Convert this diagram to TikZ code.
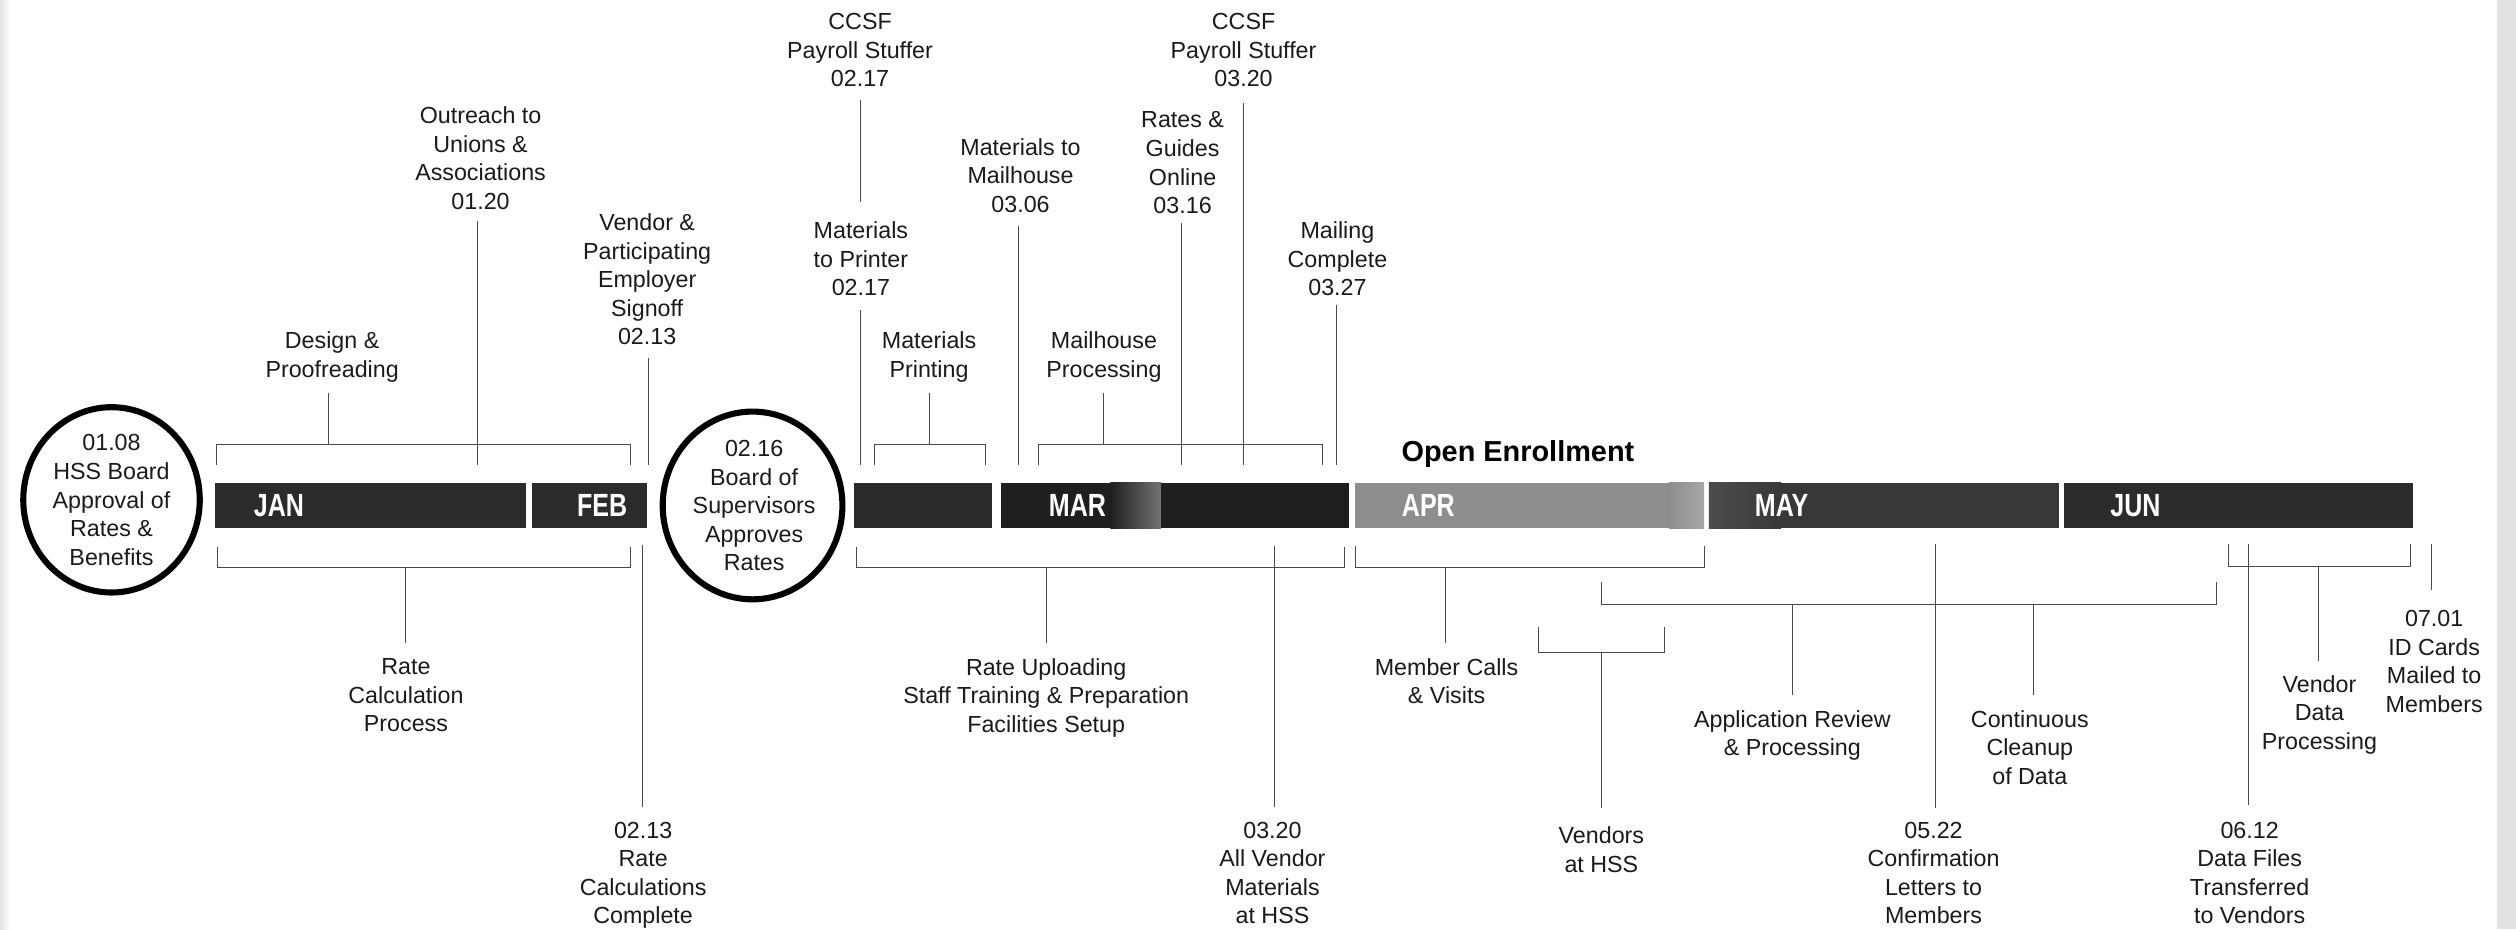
\documentclass[tikz,border=0pt]{standalone}
\usepackage{fontspec}
\setmainfont{Liberation Sans}
\newfontfamily\monthfont{Liberation Sans}[FakeStretch=0.78]
\usetikzlibrary{shapes.geometric}
\definecolor{bardark}{HTML}{2B2B2B}
\definecolor{bardeep}{HTML}{1F1F1F}
\definecolor{aprgray}{HTML}{8E8E8E}
\definecolor{linegray}{HTML}{4A4A4A}
\definecolor{txt}{HTML}{1A1A1A}
\definecolor{edgegray}{HTML}{E2E2E2}
\tikzset{
  lbl/.style={font=\fontsize{14.5}{17.8}\selectfont, align=center, inner sep=0pt, anchor=north, text=txt},
  tl/.style={line width=0.6pt, draw=linegray},
  mon/.style={font=\monthfont\bfseries\fontsize{20}{20}\selectfont, text=white, inner sep=0pt},
  ring/.style={draw=black, line width=3.8pt, ellipse, inner sep=0pt},
  title/.style={font=\bfseries\fontsize{18}{18}\selectfont, text=black, inner sep=0pt}
}
\begin{document}
\begin{tikzpicture}[x=1pt,y=-1pt]
\useasboundingbox (0,0) rectangle (1568,579);
% page edges
\shade[left color=edgegray, right color=white] (0,0) rectangle (6,579);
\fill[edgegray] (1556,0) rectangle (1568,579);

% ---------- bars ----------
\fill[bardark] (134,301) rectangle (328,329.3);
\fill[bardark] (331.5,301) rectangle (403.5,329.3);
\fill[bardeep!95!white] (532,301) rectangle (618.5,329.3);
\fill[bardeep] (624,301) rectangle (841,329.3);
\shade[left color=bardeep, right color=black!55] (692,301) rectangle (723.5,329.3);
\fill[aprgray] (844.5,301) rectangle (1062,329.3);
\shade[left color=aprgray, right color=black!35] (1040,301) rectangle (1062,329.3);
\fill[black!78] (1065,301) rectangle (1283,329.3);
\shade[left color=black!70, right color=black!78] (1065,301) rectangle (1110,329.3);
\fill[bardark] (1286,301) rectangle (1503.5,329.3);

% month labels
\node[mon, anchor=base west] (jan) at (158,322) {JAN};
\node[mon, anchor=base east] (feb) at (391,322) {FEB};
\node[mon, anchor=base west] (mar) at (653.5,322) {MAR};
\node[mon, anchor=base west] (apr) at (873.5,322) {APR};
\node[mon, anchor=base west] (may) at (1093.5,322) {MAY};
\node[mon, anchor=base west] (jun) at (1315,322) {JUN};
\node[title, anchor=base] (oe) at (946,287.5) {Open Enrollment};

% ---------- circles ----------
\node[ring, minimum width=110pt, minimum height=115.5pt] (c1) at (69.5,311.5) {};
\node[lbl, anchor=center] (c1t) at (69.5,311.6) {01.08\\HSS Board\\Approval of\\Rates \&\\Benefits};
\node[ring, minimum width=112pt, minimum height=117pt] (c2) at (469,315) {};
\node[lbl, anchor=center] (c2t) at (470,315.2) {02.16\\Board of\\Supervisors\\Approves\\Rates};

% ---------- labels above ----------
\node[lbl] (design) at (207,206.7) {Design \&\\Proofreading};
\node[lbl] (outreach) at (299.5,66.4) {Outreach to\\Unions \&\\Associations\\01.20};
\node[lbl] (vendor) at (403.3,132.9) {Vendor \&\\Participating\\Employer\\Signoff\\02.13};
\node[lbl] (ccsfa) at (536,8.2) {CCSF\\Payroll Stuffer\\02.17};
\node[lbl] (printer) at (536.5,138) {Materials\\to Printer\\02.17};
\node[lbl] (printing) at (579,206.7) {Materials\\Printing};
\node[lbl] (matmail) at (636,86.1) {Materials to\\Mailhouse\\03.06};
\node[lbl] (mailproc) at (688,206.7) {Mailhouse\\Processing};
\node[lbl] (rates) at (737,69.5) {Rates \&\\Guides\\Online\\03.16};
\node[lbl] (ccsfb) at (775,8.2) {CCSF\\Payroll Stuffer\\03.20};
\node[lbl] (mailing) at (833.5,138) {Mailing\\Complete\\03.27};

% ---------- labels below ----------
\node[lbl] (ratecalc) at (253,410.2) {Rate\\Calculation\\Process};
\node[lbl] (rcdone) at (400.8,512) {02.13\\Rate\\Calculations\\Complete};
\node[lbl] (rateup) at (652,410.2) {Rate Uploading\\Staff Training \& Preparation\\Facilities Setup};
\node[lbl] (allv) at (793,512) {03.20\\All Vendor\\Materials\\at HSS};
\node[lbl] (member) at (901.5,410.2) {Member Calls\\\& Visits};
\node[lbl] (vhss) at (998,515.1) {Vendors\\at HSS};
\node[lbl] (appr) at (1117,442.4) {Application Review\\\& Processing};
\node[lbl] (cleanup) at (1265,442.4) {Continuous\\Cleanup\\of Data};
\node[lbl] (conf) at (1205,512) {05.22\\Confirmation\\Letters to\\Members};
\node[lbl] (vdp) at (1445.5,420.6) {Vendor\\Data\\Processing};
\node[lbl] (dataf) at (1402,512) {06.12\\Data Files\\Transferred\\to Vendors};
\node[lbl] (idc) at (1517,380.1) {07.01\\ID Cards\\Mailed to\\Members};

% ---------- connector end points ----------
% top side
\coordinate (designA) at (205,245);   \coordinate (designB) at (205,277);
\coordinate (outA) at (297.7,138);    \coordinate (outB) at (297.7,290);
\coordinate (venA) at (404,223);      \coordinate (venB) at (404,290);
\coordinate (ccsfaA) at (536,62.3);   \coordinate (ccsfaB) at (536,125.7);
\coordinate (prinA) at (536,193);     \coordinate (prinB) at (536,290);
\coordinate (ptgA) at (579,245);      \coordinate (ptgB) at (579,277);
\coordinate (mmA) at (635,141);       \coordinate (mmB) at (635,290);
\coordinate (mpA) at (688,245);       \coordinate (mpB) at (688,277);
\coordinate (ratA) at (736.5,139);    \coordinate (ratB) at (736.5,290);
\coordinate (ccsfbA) at (775,64.4);   \coordinate (ccsfbB) at (775,290);
\coordinate (mcA) at (833,190);       \coordinate (mcB) at (833,290);
% bottom side
\coordinate (rcA) at (253,353.5);     \coordinate (rcB) at (253,401);
\coordinate (rdA) at (400.5,339.5);   \coordinate (rdB) at (400.5,502.7);
\coordinate (ruA) at (652,353.5);     \coordinate (ruB) at (652,401);
\coordinate (avA) at (794,340);       \coordinate (avB) at (794,502.7);
\coordinate (mbA) at (901,353.5);     \coordinate (mbB) at (901,401);
\coordinate (vhA) at (998,406.8);     \coordinate (vhB) at (998,503.7);
\coordinate (apA) at (1117,377);      \coordinate (apB) at (1117,433);
\coordinate (clA) at (1267,377);      \coordinate (clB) at (1267,433);
\coordinate (cfA) at (1206.5,339);    \coordinate (cfB) at (1206.5,503.7);
\coordinate (vdA) at (1445,352.8);    \coordinate (vdB) at (1445,412);
\coordinate (dfA) at (1401.5,339);    \coordinate (dfB) at (1401.5,501.7);
\coordinate (idA) at (1515.5,339);    \coordinate (idB) at (1515.5,367.7);

% ---------- brackets ----------
\draw[tl] (135,290) -- (135,277) -- (393,277) -- (393,290);
\draw[tl] (545,290) -- (545,277) -- (614,277) -- (614,290);
\draw[tl] (647,290) -- (647,277) -- (824,277) -- (824,290);
\draw[tl] (135.5,341) -- (135.5,353.5) -- (393,353.5) -- (393,341);
\draw[tl] (533.5,341) -- (533.5,353.5) -- (838,353.5) -- (838,341);
\draw[tl] (844.5,340) -- (844.5,353.5) -- (1062.5,353.5) -- (1062.5,340);
\draw[tl] (959,390.6) -- (959,406.8) -- (1037,406.8) -- (1037,390.6);
\draw[tl] (998,363) -- (998,377) -- (1381.5,377) -- (1381.5,363);
\draw[tl] (1389,339) -- (1389,352.8) -- (1502.5,352.8) -- (1502.5,339);

% ---------- connectors ----------
\foreach \a/\b in {designA/designB, outA/outB, venA/venB, ccsfaA/ccsfaB, prinA/prinB,
  ptgA/ptgB, mmA/mmB, mpA/mpB, ratA/ratB, ccsfbA/ccsfbB, mcA/mcB,
  rcA/rcB, rdA/rdB, ruA/ruB, avA/avB, mbA/mbB, vhA/vhB, apA/apB, clA/clB,
  cfA/cfB, vdA/vdB, dfA/dfB, idA/idB}
  \draw[tl] (\a) -- (\b);
\end{tikzpicture}
\end{document}
